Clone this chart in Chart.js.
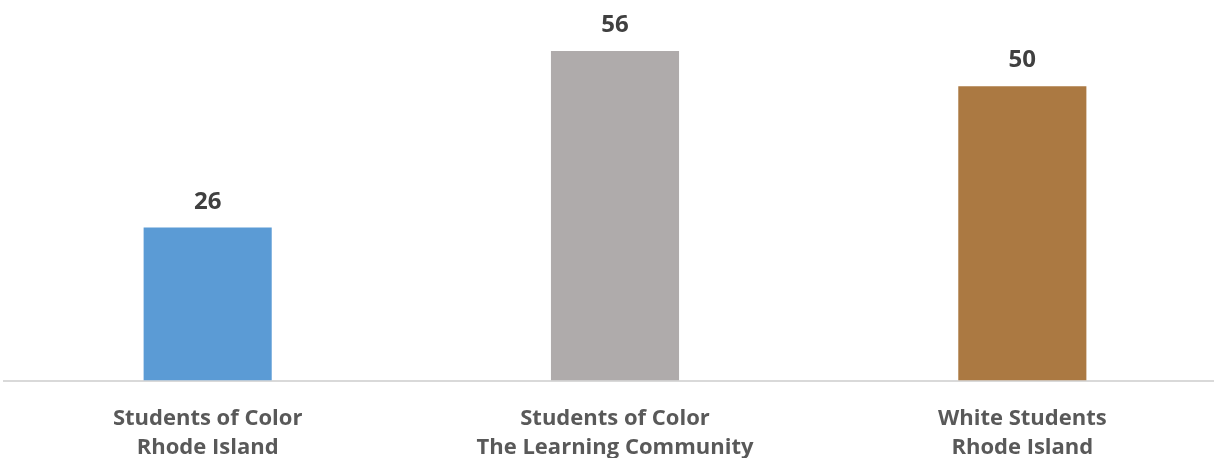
<!DOCTYPE html>
<html>
<head>
<meta charset="utf-8">
<script src="https://cdn.jsdelivr.net/npm/chart.js@4"></script>
<style>
  html, body { margin: 0; padding: 0; background: #fff; overflow: hidden; }
  #wrap { width: 1226px; height: 486px; }
</style>
</head>
<body>
<div id="wrap"><canvas id="chart"></canvas></div>
<script>
const categories = [
  ["Students of Color", "Rhode Island"],
  ["Students of Color", "The Learning Community"],
  ["White Students", "Rhode Island"]
];
const values = [26, 56, 50];
const barColors = ["#5b9bd5", "#afabab", "#ab7942"];

// draws the value above each bar
const valueLabels = {
  id: "valueLabels",
  afterDatasetsDraw(chart) {
    const ctx = chart.ctx;
    const meta = chart.getDatasetMeta(0);
    ctx.save();
    ctx.font = "bold 24px 'Open Sans'";
    ctx.fillStyle = "#404040";
    ctx.textAlign = "center";
    ctx.textBaseline = "alphabetic";
    meta.data.forEach((bar, i) => {
      ctx.fillText(values[i], bar.x, bar.y - 19);
    });
    ctx.restore();
  }
};

const ctx = document.getElementById("chart").getContext("2d");
new Chart(ctx, {
  type: "bar",
  data: {
    labels: categories,
    datasets: [
      {
        data: values,
        backgroundColor: barColors,
        categoryPercentage: 1,
        barPercentage: 0.3145,
      },
    ],
  },
  options: {
    responsive: true,
    maintainAspectRatio: false,
    animation: false,
    layout: { padding: { top: 27.5, left: 4, right: 0, bottom: 0 } },
    plugins: {
      legend: { display: false },
      tooltip: { enabled: false },
    },
    scales: {
      x: {
        grid: { display: false, drawTicks: false },
        border: { color: "#d9d9d9", width: 2 },
        ticks: {
          color: "#595959",
          font: { family: "Open Sans", size: 22, weight: "bold", lineHeight: 1.35 },
          padding: 23,
          maxRotation: 0,
          autoSkip: false,
        },
      },
      y: {
        display: false,
        min: 0,
        max: 60,
      },
    },
  },
  plugins: [valueLabels],
});
</script>
</body>
</html>
